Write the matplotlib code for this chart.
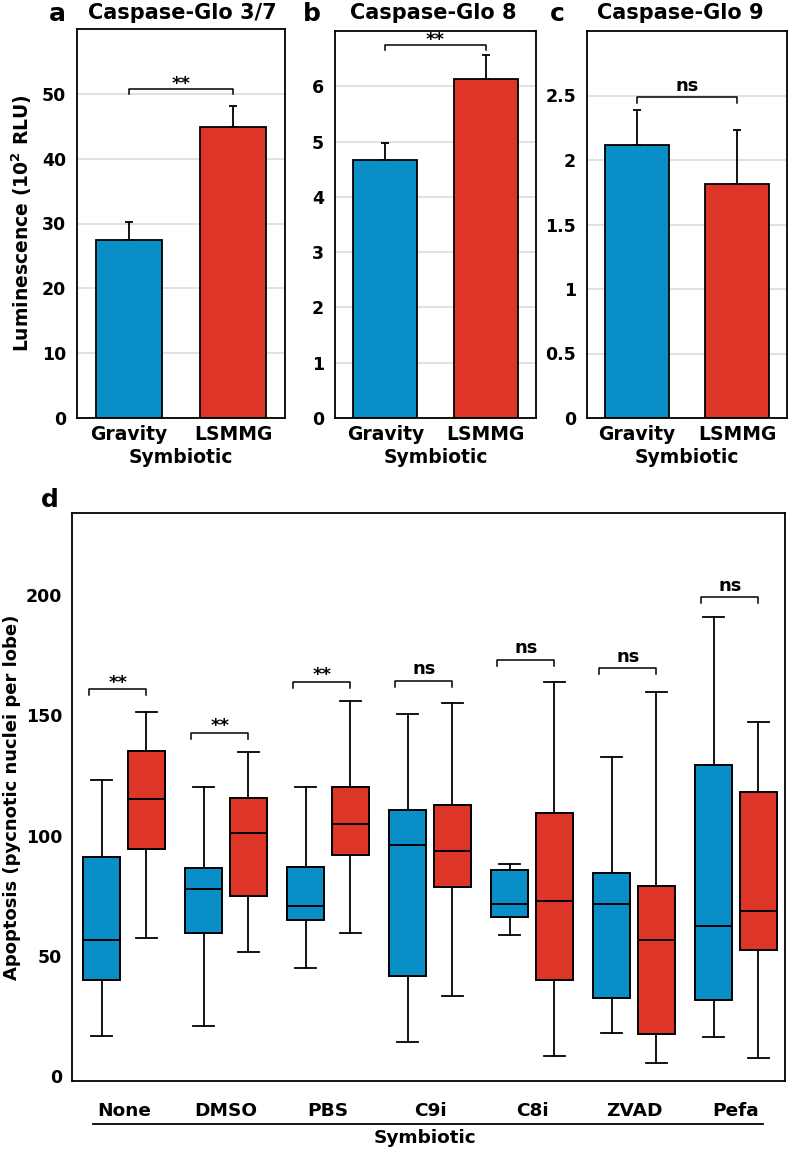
import numpy as np
import matplotlib
matplotlib.use("Agg")
import matplotlib.pyplot as plt

plt.rcParams["font.family"] = ["DejaVu Sans"]
plt.rcParams["font.weight"] = "bold"
plt.rcParams["axes.labelweight"] = "bold"

# ====================
# 1. data
# ====================
bar_groups = ["Gravity", "LSMMG"]
glo37_mean = [27.5, 44.9]
glo37_err = [2.8, 3.3]
glo8_mean = [4.66, 6.14]
glo8_err = [0.31, 0.43]
glo9_mean = [2.115, 1.815]
glo9_err = [0.275, 0.415]

treatments = ["None", "DMSO", "PBS", "C9i", "C8i", "ZVAD", "Pefa"]
# whisker low, q1, median, q3, whisker high
gravity_box = [
    [16.7, 40.0, 56.6, 90.9, 123.2],
    [20.8, 59.4, 77.9, 86.5, 120.2],
    [45.0, 64.7, 70.9, 86.9, 120.2],
    [14.0, 41.6, 96.0, 110.5, 150.3],
    [58.6, 66.2, 71.5, 85.5, 88.3],
    [17.8, 32.3, 71.5, 84.4, 132.8],
    [16.1, 31.5, 62.4, 129.1, 190.7],
]
lsmmg_box = [
    [57.6, 94.4, 115.2, 135.3, 151.4],
    [51.6, 74.9, 101.0, 115.5, 134.8],
    [59.4, 92.1, 104.9, 120.2, 155.8],
    [33.3, 78.7, 93.4, 112.5, 155.2],
    [8.3, 40.1, 72.9, 109.2, 163.7],
    [5.3, 17.4, 56.5, 79.2, 159.7],
    [7.4, 52.5, 68.8, 117.9, 147.2],
]
box_sig = ["**", "**", "**", "ns", "ns", "ns", "ns"]
bracket_y = [160.7, 142.7, 163.9, 164.1, 172.8, 169.4, 198.9]

blue = "#0a8ec8"
red = "#dd3628"
colors = [blue, red]
sig_offset = {"**": 0, "ns": 4}

fig = plt.figure(figsize=(7.89, 11.49), dpi=100)


# ====================
# 2. bar panels a-c
# ====================
def bar_panel(rect, means, errs, top, ticks, sig, bracket, tick_drop, title, title_x, letter, letter_x):
    ax = fig.add_axes(rect)
    x = np.arange(len(means))
    ax.set_axisbelow(True)
    ax.yaxis.grid(True, color="#dcdcdc", lw=1.2)
    ax.bar(x, means, width=0.64, color=colors, edgecolor="black", lw=1.3, zorder=2)
    ax.errorbar(x, means, yerr=[np.zeros(len(errs)), errs], fmt="none",
                ecolor="black", elinewidth=1.3, capsize=3, capthick=1.3, zorder=3)
    ax.plot([0, 0, 1, 1], [bracket - tick_drop, bracket, bracket, bracket - tick_drop],
            color="black", lw=1.1)
    ax.annotate(sig, xy=(0.5, bracket), xytext=(0, sig_offset[sig]), textcoords="offset points",
                ha="center", va="baseline", fontsize=13)
    ax.set_xlim(-0.5, 1.5)
    ax.set_ylim(0, top)
    ax.set_yticks(ticks)
    ax.set_yticklabels(["%g" % t for t in ticks])
    ax.set_xticks(x)
    ax.set_xticklabels(bar_groups)
    ax.tick_params(axis="y", length=0, pad=8, labelsize=12.5)
    ax.tick_params(axis="x", length=0, pad=5, labelsize=13.5)
    ax.set_xlabel("Symbiotic", fontsize=13.5, labelpad=3)
    for s in ax.spines.values():
        s.set_linewidth(1.3)
    fig.text(title_x, 1 - 13 / 1149, title, ha="center", va="center", fontsize=15)
    fig.text(letter_x, 1 - 14 / 1149, letter, ha="center", va="center", fontsize=18)
    return ax


bot = 1 - 418 / 1149
ax_a = bar_panel([77 / 789, bot, 208 / 789, (418 - 29) / 1149], glo37_mean, glo37_err,
                 60, [0, 10, 20, 30, 40, 50], "**", 50.8, 0.9,
                 "Caspase-Glo 3/7", 182 / 789, "a", 57 / 789)
ax_a.set_ylabel("Luminescence (10$^{\\mathbf{2}}$ RLU)", fontsize=13.5)
ax_a.yaxis.set_label_coords(-0.205, 0.5)
bar_panel([335 / 789, bot, 201 / 789, (418 - 31) / 1149], glo8_mean, glo8_err,
          7, [0, 1, 2, 3, 4, 5, 6], "**", 6.75, 0.09,
          "Caspase-Glo 8", 433 / 789, "b", 312 / 789)
bar_panel([587 / 789, bot, 200 / 789, (418 - 31) / 1149], glo9_mean, glo9_err,
          3, [0, 0.5, 1, 1.5, 2, 2.5], "ns", 2.49, 0.045,
          "Caspase-Glo 9", 680 / 789, "c", 557 / 789)

# ====================
# 3. box panel d
# ====================
ax_d = fig.add_axes([72 / 789, 1 - 1081 / 1149, 713 / 789, 568 / 1149])
stats = []
positions = []
box_colors = []
for i, name in enumerate(treatments):
    for j, vals in enumerate((gravity_box[i], lsmmg_box[i])):
        lo, q1, med, q3, hi = vals
        stats.append(dict(whislo=lo, q1=q1, med=med, q3=q3, whishi=hi, fliers=[]))
        positions.append(i + (j - 0.5) * 0.44)
        box_colors.append(colors[j])

bp = ax_d.bxp(stats, positions=positions, widths=0.37, patch_artist=True,
              showfliers=False, capwidths=0.2, manage_ticks=False,
              boxprops=dict(edgecolor="black", lw=1.4),
              medianprops=dict(color="black", lw=1.4),
              whiskerprops=dict(color="black", lw=1.3),
              capprops=dict(color="black", lw=1.3))
for patch, c in zip(bp["boxes"], box_colors):
    patch.set_facecolor(c)

for i, sig in enumerate(box_sig):
    x0 = i - 0.22 - 0.12
    x1 = i + 0.22
    y = bracket_y[i]
    ax_d.plot([x0, x0, x1, x1], [y - 2.5, y, y, y - 2.5], color="black", lw=1.1)
    ax_d.annotate(sig, xy=((x0 + x1) / 2, y), xytext=(0, sig_offset[sig] + 1),
                  textcoords="offset points", ha="center", va="baseline", fontsize=13)

ax_d.set_xlim(-0.51, 6.48)
ax_d.set_ylim(-2, 234)
ax_d.set_yticks([0, 50, 100, 150, 200])
ax_d.set_xticks(np.arange(len(treatments)))
ax_d.set_xticklabels(treatments)
ax_d.tick_params(axis="y", length=0, pad=7, labelsize=12.5)
ax_d.tick_params(axis="x", length=0, pad=15, labelsize=13.3)
ax_d.set_ylabel("Apoptosis (pycnotic nuclei per lobe)", fontsize=13)
ax_d.yaxis.set_label_coords(-0.071, 0.5)
for s in ax_d.spines.values():
    s.set_linewidth(1.3)

ax_d.plot([0.029, 0.969], [-0.0757, -0.0757], color="black", lw=1.3,
          transform=ax_d.transAxes, clip_on=False)
ax_d.text(0.495, -0.1004, "Symbiotic", ha="center", va="center", fontsize=13.3,
          transform=ax_d.transAxes)
fig.text(50 / 789, 1 - 500 / 1149, "d", ha="center", va="center", fontsize=18)

fig.savefig("out.png", dpi=100)
